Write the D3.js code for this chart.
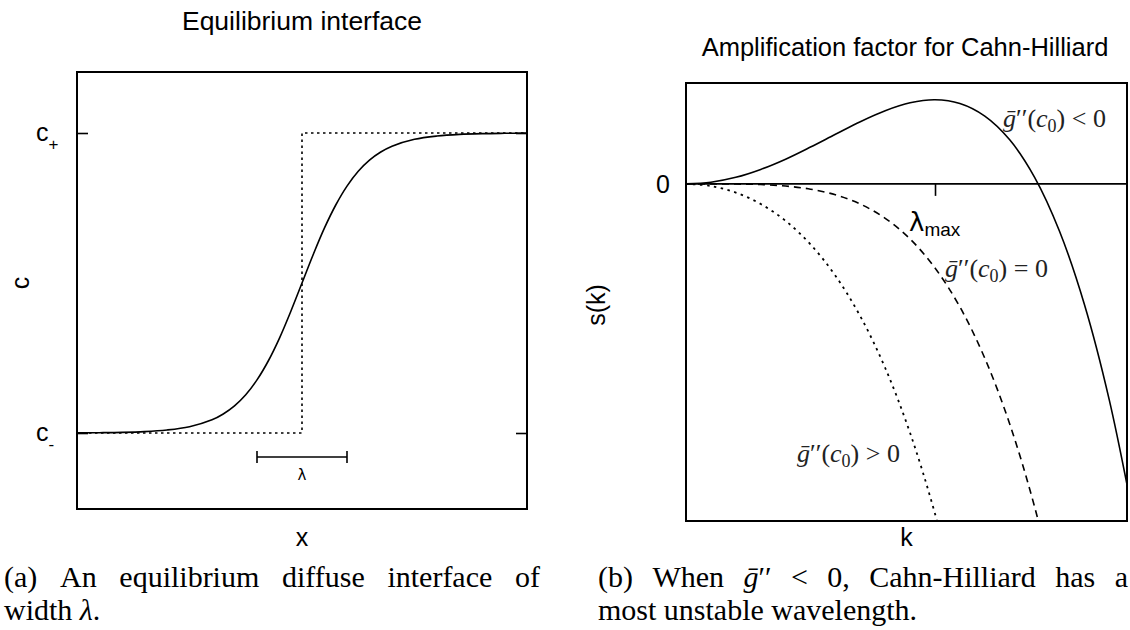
<!DOCTYPE html>
<html><head><meta charset="utf-8">
<script src="https://cdn.jsdelivr.net/npm/d3@7"></script>
<style>body{margin:0;background:#fff}svg{display:block}</style>
</head><body><svg id="c" width="1130" height="630"></svg>
<script>
// ---------- data ----------
const leftX = [-5,-4.5,-4,-3.5,-3,-2.5,-2,-1.75,-1.5,-1.25,-1,-0.75,-0.5,-0.25,0,0.25,0.5,0.75,1,1.25,1.5,1.75,2,2.5,3,3.5,4,4.5,5];
const interfaceC = [-0.999,-0.998,-0.996,-0.991,-0.980,-0.958,-0.912,-0.873,-0.819,-0.745,-0.646,-0.520,-0.367,-0.190,0,0.190,0.367,0.520,0.646,0.745,0.819,0.873,0.912,0.958,0.980,0.991,0.996,0.998,0.999];
const stepX = [-5,0,0,5];
const stepC = [-1,-1,1,1];
const lambdaBar = [-1,1];
const leftTickValues = [-1,1];
const leftTickLabels = ["c","c"];
const leftTickSubs = ["-","+"];

const rightK = [0,0.1,0.2,0.3,0.4,0.5,0.6,0.7,0.8,0.9,1.0,1.1,1.2,1.3,1.4,1.5,1.6,1.7,1.8];
const sNeg  = [0,0.020,0.078,0.172,0.294,0.438,0.590,0.740,0.870,0.964,1.0,0.956,0.806,0.524,0.078,-0.563,-1.434,-2.572,-4.02];
const sZero = [0,-0.0001,-0.0016,-0.008,-0.026,-0.063,-0.130,-0.240,-0.410,-0.656,-1.0,-1.464,-2.074,-2.856,-3.842,-5.06];
const sPos  = [0,-0.025,-0.103,-0.239,-0.440,-0.720,-1.092,-1.575,-2.190,-2.964,-3.925,-5.104];
const kMax = 1.0;

const titleLeft = "Equilibrium interface";
const titleRight = "Amplification factor for Cahn-Hilliard";

// ---------- setup ----------
const svg = d3.select("#c");
const SANS = "'Liberation Sans', Arial, Helvetica, sans-serif";
const SERIF = "'Liberation Serif', 'Times New Roman', serif";

// ---------- left panel ----------
const L = {x0:77, x1:527, y0:72, y1:509};
const xL = d3.scaleLinear().domain([-5,5]).range([L.x0,L.x1]);
const yL = d3.scaleLinear().domain([-1,1]).range([433,133]);

const gL = svg.append("g");
gL.append("text").attr("x",(L.x0+L.x1)/2).attr("y",30).attr("text-anchor","middle")
  .attr("font-family",SANS).attr("font-size",26.5).text(titleLeft);

const lineL = d3.line().x((d,i)=>xL(d[0])).y(d=>yL(d[1]));
gL.append("path").datum(stepX.map((x,i)=>[x,stepC[i]]))
  .attr("d",lineL).attr("fill","none").attr("stroke","#000").attr("stroke-width",1.6)
  .attr("stroke-dasharray","2.5,3.5");
gL.append("path").datum(leftX.map((x,i)=>[x,interfaceC[i]]))
  .attr("d",lineL.curve(d3.curveCatmullRom)).attr("fill","none").attr("stroke","#000").attr("stroke-width",1.6);

// axes ticks (inside, left and right)
const axLeft = d3.axisRight(yL).tickValues(leftTickValues).tickSize(11).tickFormat("");
const axRight = d3.axisLeft(yL).tickValues(leftTickValues).tickSize(11).tickFormat("");
gL.append("g").attr("transform",`translate(${L.x0},0)`).call(axLeft).call(g=>g.select(".domain").remove())
  .selectAll("line").attr("stroke-width",1.6);
gL.append("g").attr("transform",`translate(${L.x1},0)`).call(axRight).call(g=>g.select(".domain").remove())
  .selectAll("line").attr("stroke-width",1.6);

leftTickValues.forEach((v,i)=>{
  const t = gL.append("text").attr("x",36).attr("y",yL(v)+8).attr("font-family",SANS).attr("font-size",25);
  t.append("tspan").text(leftTickLabels[i]);
  t.append("tspan").attr("dy",9).attr("font-size",17).text(leftTickSubs[i]);
});

gL.append("rect").attr("x",L.x0).attr("y",L.y0).attr("width",L.x1-L.x0).attr("height",L.y1-L.y0)
  .attr("fill","none").attr("stroke","#000").attr("stroke-width",2);

// lambda bar
const yBar = yL(-1.16);
gL.append("line").attr("x1",xL(lambdaBar[0])).attr("x2",xL(lambdaBar[1])).attr("y1",yBar).attr("y2",yBar)
  .attr("stroke","#000").attr("stroke-width",1.6);
lambdaBar.forEach(v=>gL.append("line").attr("x1",xL(v)).attr("x2",xL(v)).attr("y1",yBar-6).attr("y2",yBar+6)
  .attr("stroke","#000").attr("stroke-width",1.6));
gL.append("text").attr("x",xL(0)).attr("y",yBar+23).attr("text-anchor","middle")
  .attr("font-family","'DejaVu Sans', sans-serif").attr("font-size",15).text("λ");

gL.append("text").attr("x",(L.x0+L.x1)/2).attr("y",546).attr("text-anchor","middle")
  .attr("font-family",SANS).attr("font-size",25).text("x");
gL.append("text").attr("transform",`translate(29,283) rotate(-90)`).attr("text-anchor","middle")
  .attr("font-family",SANS).attr("font-size",25).text("c");

// ---------- right panel ----------
const R = {x0:686, x1:1127, y0:83, y1:521};
const xR = d3.scaleLinear().domain([0,1.771]).range([R.x0,R.x1]);
const yR = d3.scaleLinear().domain([-4.01,1.2]).range([R.y1,R.y0]);
const gR = svg.append("g");
svg.append("defs").append("clipPath").attr("id","clipR").append("rect")
  .attr("x",R.x0).attr("y",R.y0).attr("width",R.x1-R.x0).attr("height",R.y1-R.y0);

gR.append("text").attr("x",905).attr("y",56).attr("text-anchor","middle")
  .attr("font-family",SANS).attr("font-size",25.5).text(titleRight);

const lineR = d3.line().x(d=>xR(d[0])).y(d=>yR(d[1])).curve(d3.curveCatmullRom);
const gc = gR.append("g").attr("clip-path","url(#clipR)");
gc.append("path").datum(sNeg.map((s,i)=>[rightK[i],s])).attr("d",lineR)
  .attr("fill","none").attr("stroke","#000").attr("stroke-width",1.6);
gc.append("path").datum(sZero.map((s,i)=>[rightK[i],s])).attr("d",lineR)
  .attr("fill","none").attr("stroke","#000").attr("stroke-width",1.6).attr("stroke-dasharray","7,5");
gc.append("path").datum(sPos.map((s,i)=>[rightK[i],s])).attr("d",lineR)
  .attr("fill","none").attr("stroke","#000").attr("stroke-width",1.8).attr("stroke-dasharray","2.5,4.5");

// zero line
gR.append("line").attr("x1",R.x0).attr("x2",R.x1).attr("y1",yR(0)).attr("y2",yR(0))
  .attr("stroke","#000").attr("stroke-width",1.6);
// lambda max tick
const axK = d3.axisBottom(xR).tickValues([kMax]).tickSize(12).tickFormat("");
gR.append("g").attr("transform",`translate(0,${yR(0)})`).call(axK).call(g=>g.select(".domain").remove())
  .selectAll("line").attr("stroke-width",1.6);

gR.append("rect").attr("x",R.x0).attr("y",R.y0).attr("width",R.x1-R.x0).attr("height",R.y1-R.y0)
  .attr("fill","none").attr("stroke","#000").attr("stroke-width",2);

gR.append("text").attr("x",663).attr("y",yR(0)+9).attr("text-anchor","middle")
  .attr("font-family",SANS).attr("font-size",25).text("0");
const lm = gR.append("text").attr("x",909).attr("y",231).attr("font-family",SANS).attr("font-size",26);
lm.append("tspan").attr("font-family","'DejaVu Sans', sans-serif").text("λ");
lm.append("tspan").attr("dy",5).attr("font-size",19).text("max");

gR.append("text").attr("x",(R.x0+R.x1)/2).attr("y",546).attr("text-anchor","middle")
  .attr("font-family",SANS).attr("font-size",25).text("k");
gR.append("text").attr("transform",`translate(605,305) rotate(-90)`).attr("text-anchor","middle")
  .attr("font-family",SANS).attr("font-size",25).text("s(k)");

function gLabel(x,y,rel){
  const t = gR.append("text").attr("x",x).attr("y",y).attr("font-family",SERIF).attr("font-size",26).attr("fill","#222");
  t.append("tspan").attr("font-style","italic").text("ḡ");
  t.append("tspan").text("′′(");
  t.append("tspan").attr("font-style","italic").text("c");
  t.append("tspan").attr("dy",5).attr("font-size",18).text("0");
  t.append("tspan").attr("dy",-5).text(") " + rel + " 0");
}
gLabel(1003,127,"<");
gLabel(945,277,"=");
gLabel(797,462,">");

// ---------- captions ----------
const CAP = 30;
function justified(parts, x0, x1, y){
  const g = svg.append("g");
  const nodes = parts.map(w=>{
    const t = g.append("text").attr("y",y).attr("font-family",SERIF).attr("font-size",CAP);
    w.forEach(p=>t.append("tspan").attr("font-style",p[1]?"italic":"normal").text(p[0]));
    return t;
  });
  const widths = nodes.map(n=>n.node().getComputedTextLength());
  const total = d3.sum(widths);
  const gap = Math.max(5,(x1-x0-total)/(nodes.length-1));
  let x = x0;
  nodes.forEach((n,i)=>{ n.attr("x",x); x += widths[i]+gap; });
}
function plain(parts, x0, y){
  const t = svg.append("text").attr("x",x0).attr("y",y).attr("font-family",SERIF).attr("font-size",CAP).attr("xml:space","preserve");
  parts.forEach(p=>t.append("tspan").attr("font-style",p[1]?"italic":"normal").text(p[0]));
}
justified("(a) An equilibrium diffuse interface of".split(" ").map(w=>[[w,false]]), 4, 540, 587);
plain([["width ",false],["λ",true],[".",false]], 4, 620);
justified([[["(b)",false]],[["When",false]],[["ḡ",true],["′′",false]],[["<",false]],[["0,",false]],[["Cahn-Hilliard",false]],[["has",false]],[["a",false]]], 598, 1128, 587);
plain([["most unstable wavelength.",false]], 598, 620);
</script>
</body></html>
